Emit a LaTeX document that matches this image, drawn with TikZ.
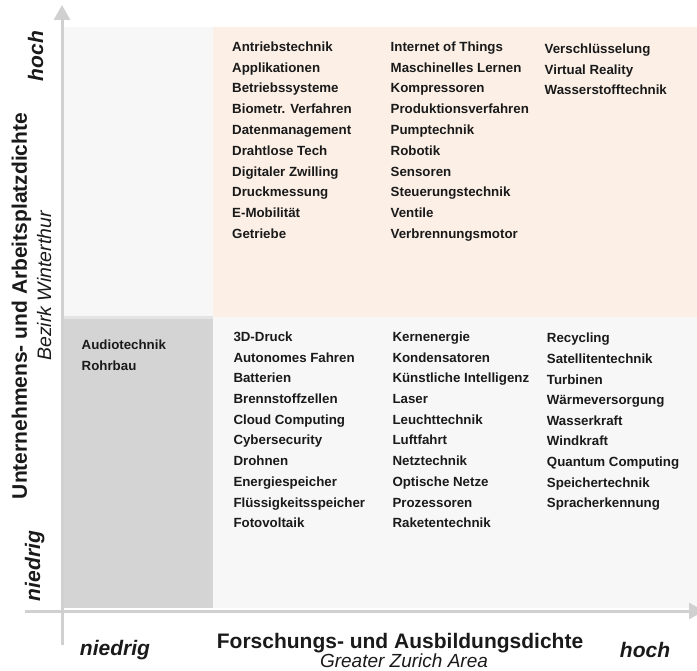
\documentclass[tikz,border=0pt]{standalone}
\usepackage{fontspec}
\setmainfont{Liberation Sans}
\usetikzlibrary{arrows.meta}
\definecolor{axisgray}{RGB}{208,208,208}
\definecolor{peach}{RGB}{251,239,230}
\definecolor{paleg}{RGB}{247,247,247}
\definecolor{midg}{RGB}{212,212,212}
\definecolor{sepg}{RGB}{228,228,228}
\definecolor{ink}{RGB}{26,26,26}
\tikzset{
  item/.style={anchor=base west, inner sep=0pt, text=ink,
    font=\fontsize{13.3}{13.3}\selectfont\bfseries},
  lvl/.style={inner sep=0pt, anchor=base, text=ink,
    font=\fontsize{21}{21}\selectfont\bfseries\itshape},
  ttl/.style={inner sep=0pt, anchor=base, text=ink,
    font=\fontsize{21}{21}\selectfont\bfseries},
  sub/.style={inner sep=0pt, anchor=base, text=ink,
    font=\fontsize{19.5}{19.5}\selectfont\itshape},
  axisline/.style={draw=axisgray, line width=3pt,
    -{Triangle[width=16pt,length=15pt]}}
}
\begin{document}
\begin{tikzpicture}[x=1pt,y=-1pt]
\useasboundingbox (0,0) rectangle (697,671);
% quadrants
\fill[paleg] (64,27) rectangle (213,317);
\fill[peach] (213,27) rectangle (697,317);
\fill[midg] (64,317) rectangle (213,608);
\fill[sepg] (64,316) rectangle (213,319);
\fill[paleg] (213,317) rectangle (697,608);
% axes
\coordinate (ybot) at (62,645);
\coordinate (ytop) at (62,5);
\coordinate (xleft) at (25,611);
\coordinate (xright) at (704,611);
\draw[axisline] (ybot) -- (ytop);
\draw[axisline] (xleft) -- (xright);
% top-right quadrant
\foreach \t [count=\i from 0] in {Antriebstechnik,Applikationen,Betriebssysteme,Biometr. Verfahren,Datenmanagement,Drahtlose Tech,Digitaler Zwilling,Druckmessung,E-Mobilität,Getriebe}
  \node[item] (ta\i) at (232,{51.4+20.8*\i}) {\t};
\foreach \t [count=\i from 0] in {Internet of Things,Maschinelles Lernen,Kompressoren,Produktionsverfahren,Pumptechnik,Robotik,Sensoren,Steuerungstechnik,Ventile,Verbrennungsmotor}
  \node[item] (tb\i) at (390.5,{51.4+20.8*\i}) {\t};
\foreach \t [count=\i from 0] in {Verschlüsselung,Virtual Reality,Wasserstofftechnik}
  \node[item] (tc\i) at (544.5,{53.8+20.6*\i}) {\t};
% bottom-left quadrant
\node[item] (la0) at (81.5,349.7) {Audiotechnik};
\node[item] (la1) at (81.5,370.4) {Rohrbau};
% bottom-right quadrant
\foreach \t [count=\i from 0] in {3D-Druck,Autonomes Fahren,Batterien,Brennstoffzellen,Cloud Computing,Cybersecurity,Drohnen,Energiespeicher,Flüssigkeitsspeicher,Fotovoltaik}
  \node[item] (ba\i) at (233.3,{341.4+20.7*\i}) {\t};
\foreach \t [count=\i from 0] in {Kernenergie,Kondensatoren,Künstliche Intelligenz,Laser,Leuchttechnik,Luftfahrt,Netztechnik,Optische Netze,Prozessoren,Raketentechnik}
  \node[item] (bb\i) at (392.3,{341.4+20.7*\i}) {\t};
\foreach \t [count=\i from 0] in {Recycling,Satellitentechnik,Turbinen,Wärmeversorgung,Wasserkraft,Windkraft,Quantum Computing,Speichertechnik,Spracherkennung}
  \node[item] (bc\i) at (546.7,{343+20.6*\i}) {\t};
% y axis labels
\node[lvl, rotate=90] (yhoch) at (43,56) {hoch};
\node[lvl, rotate=90] (yniedrig) at (40,566) {niedrig};
\node[ttl, rotate=90] (ytitle) at (27,306) {Unternehmens- und Arbeitsplatzdichte};
\node[sub, rotate=90] (ysub) at (51,286) {Bezirk Winterthur};
% x axis labels
\node[lvl] (xniedrig) at (115,655) {niedrig};
\node[lvl] (xhoch) at (645,657) {hoch};
\node[ttl] (xtitle) at (400,648) {Forschungs- und Ausbildungsdichte};
\node[sub, font=\fontsize{19}{19}\selectfont\itshape] (xsub) at (404,667.5) {Greater Zurich Area};
\end{tikzpicture}
\end{document}
